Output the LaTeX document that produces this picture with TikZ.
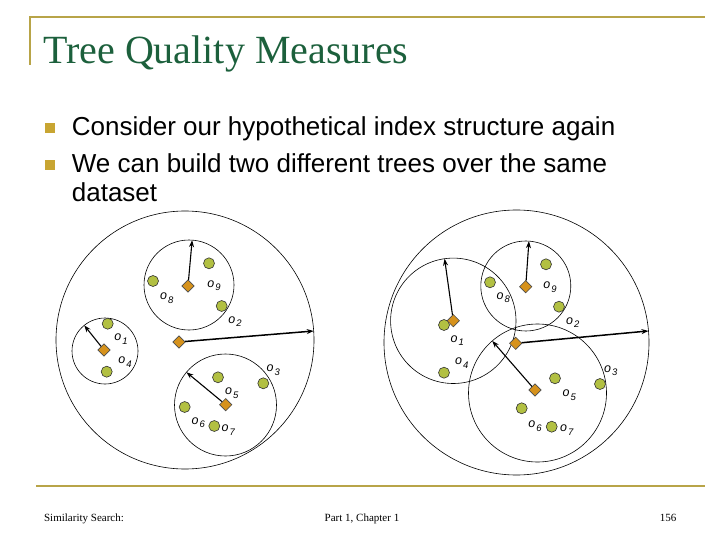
\documentclass[tikz,border=0pt]{standalone}
\usepackage{fontspec}
\setmainfont{Liberation Serif}
\setsansfont{Liberation Sans}
\usetikzlibrary{shapes.geometric,arrows.meta}
\definecolor{gold}{RGB}{184,164,72}
\definecolor{titlegreen}{RGB}{28,96,60}
\definecolor{bulletgold}{RGB}{200,165,50}
\definecolor{ptgreen}{RGB}{178,192,66}
\definecolor{piv}{RGB}{214,146,28}
\newcommand\olab[1]{{\itshape o}\kern1pt\raisebox{-3.5pt}{\fontsize{9.5}{9.5}\selectfont\itshape #1}}
\begin{document}
\begin{tikzpicture}[x=1pt,y=-1pt,
  region/.style={circle,draw=black,line width=0.6pt,inner sep=0pt,outer sep=0pt,minimum size=#1},
  obj/.style={circle,draw=black!80,line width=0.6pt,fill=ptgreen,inner sep=0pt,minimum size=11pt},
  pivot/.style={diamond,draw=black!70,line width=0.6pt,fill=piv,inner sep=0pt,minimum size=12.5pt},
  lab/.style={font=\fontsize{12.5}{12.5}\selectfont\sffamily,inner sep=0pt},
  rad/.style={-{Stealth[length=7pt,width=5pt]},line width=1.1pt},
  radbig/.style={rad,line width=1.5pt},
  goldline/.style={draw=gold,line width=2pt},
  bullet/.style={fill=bulletgold,inner sep=0pt,minimum size=10pt},
  btext/.style={anchor=base west,inner sep=0pt,font=\fontsize{26}{26}\selectfont\sffamily},
  foot/.style={anchor=base,inner sep=0pt,font=\fontsize{11}{11}\selectfont}
]
\useasboundingbox (0,0) rectangle (720,540);
% frame lines
\coordinate (tl) at (30,17);
\coordinate (tr) at (705,17);
\coordinate (tb) at (30,65);
\draw[goldline] (tb) -- (tl) -- (tr);
\coordinate (bl) at (36,486);
\coordinate (br) at (705,486);
\draw[goldline] (bl) -- (br);
% title
\node[anchor=base west,inner sep=0pt,text=titlegreen,font=\fontsize{40}{40}\selectfont] (title) at (43,63.5) {Tree Quality Measures};
% bullets
\node[bullet] (b1) at (50,128.3) {};
\node[bullet] (b2) at (50,165) {};
\node[btext] (t1) at (71.7,136) {Consider our hypothetical index structure again};
\node[btext] (t2) at (71.7,172.7) {We can build two different trees over the same};
\node[btext] (t3) at (71.7,201.7) {dataset};
% footer
\node[foot] (f1) at (84,521) {Similarity Search:};
\node[foot] (f2) at (362,521) {Part 1, Chapter 1};
\node[foot] (f3) at (668,521) {156};

% ===== left tree =====
\node[region=258pt] (bigL) at (185,340) {};
\node[region=90pt] (cL1) at (189,285) {};
\node[region=66pt] (cL2) at (105,351) {};
\node[region=102pt] (cL3) at (225.5,405) {};
\node[obj] (Lo8) at (153,281) {};
\node[obj] (Lo9) at (209,263.3) {};
\node[obj] (Lo2) at (221.7,306) {};
\node[obj] (Lo1) at (107.7,323.7) {};
\node[obj] (Lo4) at (106.7,371.7) {};
\node[obj] (Lo5) at (218,377.3) {};
\node[obj] (Lo3) at (263.3,383.3) {};
\node[obj] (Lo6) at (184.7,407) {};
\node[obj] (Lo7) at (214.3,426) {};
\node[pivot] (pL0) at (179,342) {};
\node[pivot] (pL1) at (188,286) {};
\node[pivot] (pL2) at (104,350) {};
\node[pivot] (pL3) at (225.7,404.7) {};
\draw[radbig] (pL0) -- (bigL.4.5);
\draw[rad] (pL1) -- (cL1.86.5);
\draw[rad] (pL2) -- (cL2.129);
\draw[rad] (pL3) -- (cL3.140.6);
\node[lab] (lLo8) at (166.7,298) {\olab{8}};
\node[lab] (lLo9) at (214,285.7) {\olab{9}};
\node[lab] (lLo2) at (235,321.7) {\olab{2}};
\node[lab] (lLo1) at (121,339.3) {\olab{1}};
\node[lab] (lLo4) at (125,362.3) {\olab{4}};
\node[lab] (lLo5) at (231.7,393.3) {\olab{5}};
\node[lab] (lLo3) at (273.3,370) {\olab{3}};
\node[lab] (lLo6) at (198.3,422.7) {\olab{6}};
\node[lab] (lLo7) at (228.3,430) {\olab{7}};

% ===== right tree =====
\node[region=265pt] (bigR) at (516.5,342.5) {};
\node[region=125.4pt] (cR1) at (453.3,320.8) {};
\node[region=90pt] (cR2) at (525.8,286) {};
\node[region=138pt] (cR3) at (537.5,393) {};
\node[obj] (Ro8) at (490,282.3) {};
\node[obj] (Ro9) at (546,264.3) {};
\node[obj] (Ro2) at (559,306.7) {};
\node[obj] (Ro1) at (444,325) {};
\node[obj] (Ro4) at (444,372.7) {};
\node[obj] (Ro5) at (555,378.3) {};
\node[obj] (Ro3) at (600,384) {};
\node[obj] (Ro6) at (521.7,408.3) {};
\node[obj] (Ro7) at (551.7,426.7) {};
\node[pivot] (pR0) at (515.7,343.3) {};
\node[pivot] (pR1) at (453.3,320.7) {};
\node[pivot] (pR2) at (525.7,286.7) {};
\node[pivot] (pR3) at (535,390) {};
\draw[radbig] (pR0) -- (bigR.5.1);
\draw[rad] (pR1) -- (cR1.98.5);
\draw[rad] (pR2) -- (cR2.86.8);
\draw[rad] (pR3) -- (cR3.131.7);
\node[lab] (lRo8) at (503.3,297.7) {\olab{8}};
\node[lab] (lRo9) at (550,287.3) {\olab{9}};
\node[lab] (lRo2) at (572.7,322.7) {\olab{2}};
\node[lab] (lRo1) at (457.3,340.7) {\olab{1}};
\node[lab] (lRo4) at (461.7,363.3) {\olab{4}};
\node[lab] (lRo5) at (569.3,395) {\olab{5}};
\node[lab] (lRo3) at (610.7,370.7) {\olab{3}};
\node[lab] (lRo6) at (535,426) {\olab{6}};
\node[lab] (lRo7) at (566.7,430) {\olab{7}};
\end{tikzpicture}
\end{document}
